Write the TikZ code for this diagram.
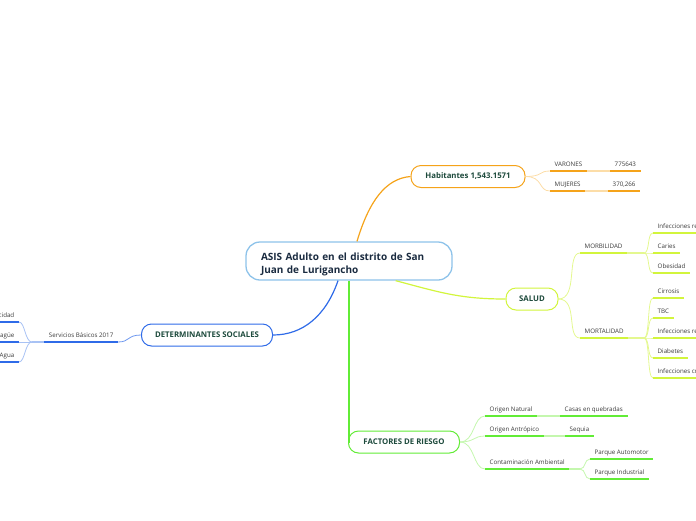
\documentclass[tikz,border=0pt]{standalone}
\usepackage{fontspec}
\setmainfont{Open Sans}
\usepackage{xcolor}
\usetikzlibrary{positioning,calc}

\definecolor{rootline}{HTML}{8EC3EA}
\definecolor{roottext}{HTML}{1A2B40}
\definecolor{topictext}{HTML}{1D4A3C}
\definecolor{leaftext}{HTML}{3A3A3A}
\definecolor{habline}{HTML}{F5A31A}
\definecolor{habpale}{HTML}{FCDDA8}
\definecolor{salline}{HTML}{D2F53C}
\definecolor{salpale}{HTML}{E4F88F}
\definecolor{facline}{HTML}{62EC36}
\definecolor{facpale}{HTML}{C4F7AE}
\definecolor{detline}{HTML}{2F6BE8}
\definecolor{detpale}{HTML}{A8C2F4}

\begin{document}
\begin{tikzpicture}[x=1pt, y=-1pt,
    root/.style={draw=rootline, line width=1.3pt, rounded corners=14pt, fill=white, minimum width=206pt, minimum height=38pt, text width=176pt, align=left, font=\fontsize{10}{13}\selectfont\bfseries, text=roottext},
    topic/.style={draw, line width=1pt, rounded corners=10pt, fill=white, minimum height=22pt, inner xsep=0pt, font=\fontsize{7.8}{9}\selectfont\bfseries, text=topictext},
    leaf/.style={inner xsep=4.5pt, inner ysep=3.5pt, text height=4.4pt, text depth=1.3pt, font=\fontsize{6.2}{7}\selectfont, text=leaftext, anchor=south west},
    uline/.style={line width=1.8pt},
    link/.style={line width=1.2pt},
    twig/.style={line width=0.8pt},
]
\clip (0,0) rectangle (696,520);

% Central topic
\node[root] (asis) at (349,261) {\rule{0pt}{14pt}ASIS Adulto en el distrito de San\\Juan de Lurigancho};

% Main topics
\node[topic, draw=habline, minimum width=114pt] (hab) at (468,176.5) {Habitantes 1,543.1571};
\node[topic, draw=salline, minimum width=52pt] (salud) at (532,299) {SALUD};
\node[topic, draw=facline, minimum width=111pt] (fact) at (404,442) {FACTORES DE RIESGO};
\node[topic, draw=detline, minimum width=131pt] (deter) at (207,335) {DETERMINANTES SOCIALES};

% Habitantes
\node[leaf] (var) at (550,171) {VARONES};
\node[leaf] (varv) at (610,171) {775643};
\node[leaf] (muj) at (550,191) {MUJERES};
\node[leaf] (mujv) at (608,191) {370,266};

% Salud
\node[leaf] (morb) at (580,253) {MORBILIDAD};
\node[leaf] (mort) at (580,338) {MORTALIDAD};
\node[leaf] (irasm) at (653,233) {Infecciones respiratorias agudas};
\node[leaf] (caries) at (653,253) {Caries};
\node[leaf] (obes) at (653,273) {Obesidad};
\node[leaf] (cirr) at (653,298) {Cirrosis};
\node[leaf] (tbc) at (653,318) {TBC};
\node[leaf] (irasf) at (653,338) {Infecciones respiratorias};
\node[leaf] (diab) at (653,358) {Diabetes};
\node[leaf] (infcr) at (653,378) {Infecciones crónicas};
\coordinate (jmorb) at (644,253);
\coordinate (jmort) at (644,338);

% Factores de riesgo
\node[leaf] (onat) at (485,416) {Origen Natural};
\node[leaf] (casas) at (560,416) {Casas en quebradas};
\node[leaf] (oantr) at (485,436) {Origen Antrópico};
\node[leaf] (sequia) at (565,436) {Sequia};
\node[leaf] (contam) at (485,469) {Contaminación Ambiental};
\node[leaf] (pauto) at (590,459) {Parque Automotor};
\node[leaf] (pind) at (590,479) {Parque Industrial};
\coordinate (jcont) at (580,469);

% Determinantes sociales
\node[leaf, anchor=south east] (serv) at (118,342) {Servicios Básicos 2017};
\node[leaf, anchor=south east] (elec) at (19,322) {Electricidad};
\node[leaf, anchor=south east] (desag) at (19,342) {Desagüe};
\node[leaf, anchor=south east] (agua) at (19,362) {Agua};
\coordinate (jserv) at (32,342);

% links from the centre
\draw[link, habline] ([xshift=8pt]asis.north) .. controls +(12,-40) and +(-25,2) .. (hab.west);
\draw[link, salline] ($(asis.south)!.45!(asis.south east)$) .. controls +(45,12) and +(-45,0) .. (salud.west);
\draw[link, detline] ([xshift=-11pt]asis.south) .. controls +(-12,35) and +(30,0) .. (deter.east);
\draw[link, facline] (asis.south) |- (fact.west);

% twigs
\foreach \n in {var,muj} \draw[twig, habpale] (hab.east) .. controls +(18,0) and +(-12,0) .. (\n.south west);
\draw[uline, habpale] (var.south east) -- (varv.south west);
\draw[uline, habpale] (muj.south east) -- (mujv.south west);

\foreach \n in {morb,mort} \draw[twig, salpale] (salud.east) .. controls +(20,0) and +(-14,0) .. (\n.south west);
\draw[uline, salpale] (morb.south east) -- (jmorb);
\draw[uline, salpale] (mort.south east) -- (jmort);
\foreach \n in {irasm,caries,obes} \draw[twig, salpale] (jmorb) .. controls +(6,0) and +(-6,0) .. (\n.south west);
\foreach \n in {cirr,tbc,irasf,diab,infcr} \draw[twig, salpale] (jmort) .. controls +(6,0) and +(-6,0) .. (\n.south west);

\foreach \n in {onat,oantr,contam} \draw[twig, facpale] (fact.east) .. controls +(15,0) and +(-12,0) .. (\n.south west);
\draw[uline, facpale] (onat.south east) -- (casas.south west);
\draw[uline, facpale] (oantr.south east) -- (sequia.south west);
\draw[uline, facpale] (contam.south east) -- (jcont);
\foreach \n in {pauto,pind} \draw[twig, facpale] (jcont) .. controls +(6,0) and +(-6,0) .. (\n.south west);

\draw[twig, detline!70] (deter.west) .. controls +(-14,0) and +(12,0) .. (serv.south east);
\draw[uline, detpale] (serv.south west) -- (jserv);
\foreach \n in {elec,desag,agua} \draw[twig, detpale] (jserv) .. controls +(-7,0) and +(6,0) .. (\n.south east);

% underlines
\foreach \n in {var,varv,muj,mujv} \draw[uline, habline] (\n.south west) -- (\n.south east);
\foreach \n in {morb,mort,irasm,caries,obes,cirr,tbc,irasf,diab,infcr} \draw[uline, salline] (\n.south west) -- (\n.south east);
\foreach \n in {onat,casas,oantr,sequia,contam,pauto,pind} \draw[uline, facline] (\n.south west) -- (\n.south east);
\foreach \n in {serv,elec,desag,agua} \draw[uline, detline] (\n.south west) -- (\n.south east);
\end{tikzpicture}
\end{document}
